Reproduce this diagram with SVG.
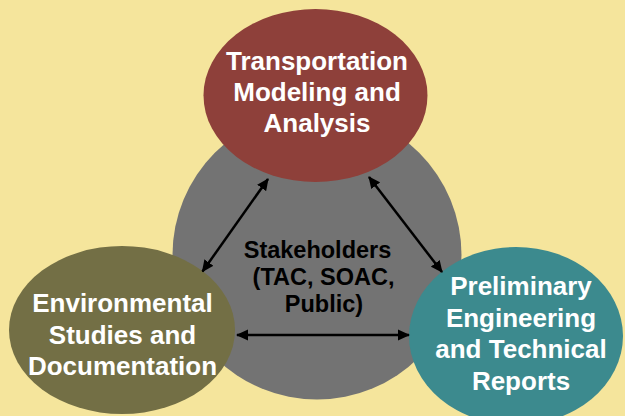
<svg xmlns="http://www.w3.org/2000/svg" width="625" height="416" viewBox="0 0 625 416">
  <defs>
    <marker id="head" viewBox="0 0 12 12" refX="11" refY="6" markerWidth="12" markerHeight="12" markerUnits="userSpaceOnUse" orient="auto-start-reverse">
      <path d="M0,0.5 L12,6 L0,11.5 z" fill="#000"/>
    </marker>
  </defs>
  <style>
    .lbl { font-family: "Liberation Sans", Arial, sans-serif; font-weight: bold; font-size: 26px; fill: #ffffff; text-anchor: middle; }
    .hub { font-family: "Liberation Sans", Arial, sans-serif; font-weight: bold; font-size: 23.5px; fill: #000000; text-anchor: middle; }
    .link { stroke: #000; stroke-width: 2.5; fill: none; marker-start: url(#head); marker-end: url(#head); }
  </style>

  <rect width="625" height="416" fill="#F5E59C"/>

  <!-- central stakeholders circle -->
  <g id="stakeholders">
    <circle cx="317" cy="255" r="144.5" fill="#737373"/>
  </g>

  <g id="transportation">
    <ellipse cx="315.5" cy="95.5" rx="112" ry="86.5" fill="#8E403A"/>
    <text class="lbl" x="317" y="70">Transportation</text>
    <text class="lbl" x="317" y="101">Modeling and</text>
    <text class="lbl" x="317" y="132">Analysis</text>
  </g>

  <g id="environmental">
    <ellipse cx="122" cy="330" rx="113" ry="84" fill="#736F45"/>
    <text class="lbl" x="122.5" y="312">Environmental</text>
    <text class="lbl" x="122.5" y="343.5">Studies and</text>
    <text class="lbl" x="122.5" y="375">Documentation</text>
  </g>

  <g id="engineering">
    <ellipse cx="516" cy="336" rx="107" ry="89" fill="#3C8A8E"/>
    <text class="lbl" x="521" y="295">Preliminary</text>
    <text class="lbl" x="521" y="327">Engineering</text>
    <text class="lbl" x="521" y="358">and Technical</text>
    <text class="lbl" x="521" y="390">Reports</text>
  </g>

  <g id="stakeholders-label">
    <text class="hub" x="317.5" y="258">Stakeholders</text>
    <text class="hub" x="323.5" y="285">(TAC, SOAC,</text>
    <text class="hub" x="324" y="312">Public)</text>
  </g>

  <!-- two-way links between the groups -->
  <g id="connectors">
    <line class="link" x1="202.5" y1="271.5" x2="268" y2="179"/>
    <line class="link" x1="369" y1="177" x2="442" y2="272"/>
    <line class="link" x1="237" y1="335" x2="409" y2="335"/>
  </g>
</svg>
